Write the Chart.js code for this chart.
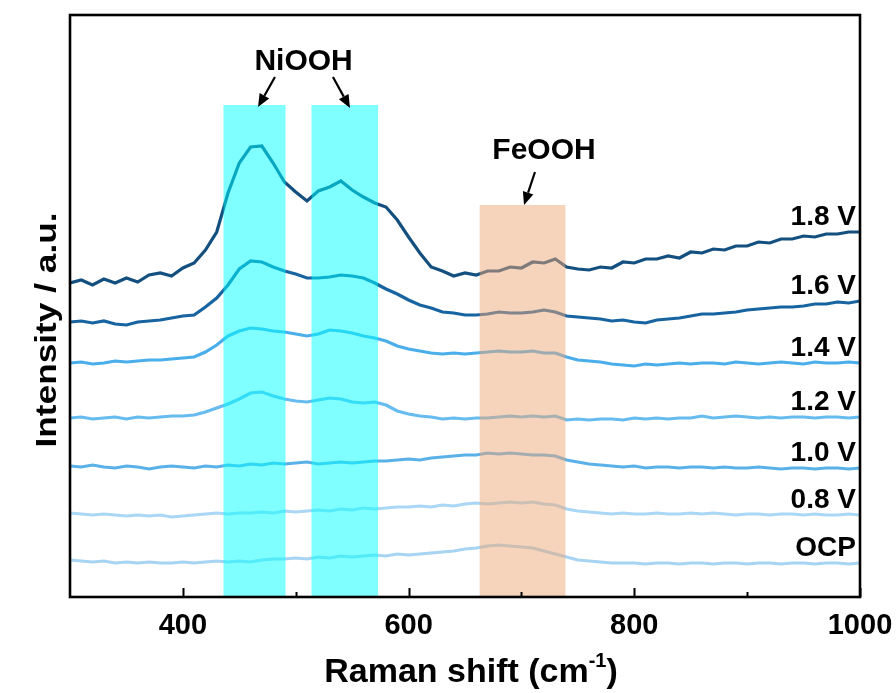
<!DOCTYPE html>
<html>
<head>
<meta charset="utf-8">
<script src="https://cdn.jsdelivr.net/npm/chart.js"></script>
<style>
  html, body { margin: 0; padding: 0; background: #fff; }
  #wrap { width: 896px; height: 693px; }
</style>
</head>
<body>
<div id="wrap"><canvas id="raman" width="896" height="693"></canvas></div>
<script>
// Raman shift axis (cm-1)
const ramanShift = [300, 310, 320, 330, 340, 350, 360, 370, 380, 390,
  400, 410, 420, 430, 440, 450, 460, 470, 480, 490,
  500, 510, 520, 530, 540, 550, 560, 570, 580, 590,
  600, 610, 620, 630, 640, 650, 660, 670, 680, 690,
  700, 710, 720, 730, 740, 750, 760, 770, 780, 790,
  800, 810, 820, 830, 840, 850, 860, 870, 880, 890,
  900, 910, 920, 930, 940, 950, 960, 970, 980, 990, 1000];

// spectra, already stacked with their offsets (a.u.)
const i18V = [31.4, 31.7, 31.2, 31.8, 31.4, 31.9, 31.5, 32.2, 32.4, 32.1,
  32.9, 33.4, 34.7, 36.5, 40.4, 43.4, 45.0, 45.1, 43.4, 41.5,
  40.5, 39.6, 40.6, 41.0, 41.6, 40.7, 40.0, 39.4, 39.0, 37.7,
  36.0, 34.4, 33.0, 32.6, 32.1, 32.4, 32.2, 32.6, 32.6, 33.0,
  32.9, 33.5, 33.4, 33.8, 33.0, 32.8, 32.7, 33.0, 32.9, 33.5,
  33.4, 33.8, 33.8, 34.1, 33.9, 34.5, 34.4, 34.8, 34.7, 35.1,
  35.1, 35.5, 35.4, 35.8, 35.8, 36.1, 36.0, 36.3, 36.3, 36.5, 36.5];
const i16V = [27.5, 27.6, 27.4, 27.6, 27.3, 27.2, 27.5, 27.6, 27.7, 27.9,
  28.1, 28.2, 29.0, 29.9, 31.2, 32.8, 33.6, 33.5, 33.0, 32.6,
  32.3, 31.9, 31.9, 32.0, 32.2, 32.1, 31.9, 31.4, 30.8, 30.3,
  29.7, 29.2, 28.9, 28.5, 28.4, 28.2, 28.2, 28.3, 28.5, 28.4,
  28.4, 28.5, 28.7, 28.5, 28.1, 28.0, 27.9, 27.8, 27.6, 27.7,
  27.5, 27.4, 27.7, 27.8, 27.9, 28.1, 28.3, 28.3, 28.4, 28.5,
  28.7, 28.8, 28.9, 29.0, 29.0, 29.1, 29.3, 29.3, 29.5, 29.4, 29.6];
const i14V = [23.4, 23.5, 23.3, 23.4, 23.6, 23.5, 23.6, 23.7, 23.7, 23.8,
  23.9, 24.0, 24.5, 25.2, 26.1, 26.6, 26.9, 26.8, 26.6, 26.5,
  26.3, 26.1, 26.3, 26.7, 26.6, 26.4, 26.1, 25.9, 25.6, 25.1,
  24.8, 24.6, 24.4, 24.3, 24.4, 24.3, 24.4, 24.5, 24.6, 24.5,
  24.5, 24.6, 24.4, 24.4, 24.0, 23.7, 23.6, 23.5, 23.3, 23.2,
  23.1, 23.3, 23.2, 23.3, 23.4, 23.3, 23.4, 23.4, 23.3, 23.5,
  23.4, 23.3, 23.4, 23.5, 23.4, 23.3, 23.5, 23.4, 23.4, 23.5, 23.4];
const i12V = [17.9, 18.0, 17.8, 17.9, 18.0, 17.8, 18.0, 17.9, 18.0, 18.1,
  18.1, 18.2, 18.5, 18.9, 19.3, 19.8, 20.4, 20.5, 20.1, 19.8,
  19.6, 19.5, 19.7, 19.9, 19.8, 19.5, 19.4, 19.5, 19.2, 18.6,
  18.3, 18.1, 18.0, 17.8, 17.9, 17.8, 17.9, 17.9, 18.0, 18.1,
  18.0, 18.1, 18.0, 18.1, 17.7, 17.8, 17.7, 17.8, 17.8, 17.7,
  17.9, 17.8, 17.9, 17.8, 17.9, 17.9, 18.1, 17.9, 18.0, 18.1,
  18.0, 17.9, 18.0, 17.9, 18.0, 18.0, 17.9, 18.0, 18.0, 17.9, 18.0];
const i10V = [13.1, 13.0, 13.2, 13.0, 12.9, 13.1, 13.0, 12.8, 13.0, 13.1,
  13.0, 12.9, 13.1, 13.0, 13.2, 13.1, 13.3, 13.2, 13.4, 13.3,
  13.4, 13.5, 13.3, 13.4, 13.5, 13.4, 13.5, 13.6, 13.6, 13.7,
  13.8, 13.7, 13.9, 14.0, 14.1, 14.2, 14.2, 14.4, 14.3, 14.4,
  14.3, 14.2, 14.2, 14.1, 13.7, 13.5, 13.3, 13.2, 13.1, 13.0,
  13.1, 12.9, 13.0, 13.0, 12.9, 13.0, 13.0, 12.9, 13.0, 12.9,
  12.9, 13.0, 12.9, 12.8, 12.9, 12.9, 12.8, 12.9, 12.9, 12.8, 12.9];
const i08V = [8.4, 8.3, 8.2, 8.3, 8.2, 8.1, 8.2, 8.1, 8.2, 8.0,
  8.1, 8.2, 8.3, 8.4, 8.3, 8.4, 8.4, 8.5, 8.4, 8.6,
  8.5, 8.6, 8.7, 8.6, 8.8, 8.7, 8.9, 8.8, 8.9, 9.0,
  9.0, 9.1, 9.0, 9.2, 9.1, 9.3, 9.4, 9.3, 9.4, 9.5,
  9.4, 9.5, 9.3, 9.2, 8.8, 8.6, 8.5, 8.4, 8.3, 8.4,
  8.3, 8.3, 8.4, 8.3, 8.3, 8.4, 8.3, 8.4, 8.3, 8.2,
  8.3, 8.3, 8.2, 8.3, 8.3, 8.2, 8.3, 8.2, 8.2, 8.3, 8.2];
const iOCP = [3.7, 3.6, 3.5, 3.6, 3.4, 3.5, 3.4, 3.5, 3.4, 3.4,
  3.5, 3.4, 3.5, 3.6, 3.5, 3.6, 3.5, 3.7, 3.8, 3.8,
  3.9, 3.8, 4.0, 3.9, 4.1, 4.0, 4.1, 4.2, 4.1, 4.3,
  4.2, 4.3, 4.4, 4.5, 4.6, 4.8, 4.9, 5.1, 5.2, 5.1,
  5.0, 4.9, 4.6, 4.3, 4.0, 3.7, 3.6, 3.5, 3.4, 3.4,
  3.4, 3.3, 3.4, 3.4, 3.3, 3.4, 3.4, 3.3, 3.4, 3.4,
  3.3, 3.4, 3.4, 3.3, 3.4, 3.4, 3.3, 3.4, 3.4, 3.3, 3.4];

const seriesNames = ['1.8 V', '1.6 V', '1.4 V', '1.2 V', '1.0 V', '0.8 V', 'OCP'];
const seriesValues = [i18V, i16V, i14V, i12V, i10V, i08V, iOCP];
const seriesColors = ['#134f7f', '#1764a0', '#4aaeea', '#66bbef', '#5ab1e8', '#a9d7f5', '#a7d4f2'];

// x ticks with labels
const tickLabels = [400, 600, 800, 1000];

// highlighted bands (cm-1) and their top (a.u.)
const bandFrom = [436, 514, 663];
const bandTo = [491, 573, 739];
const bandTop = [49.2, 49.2, 39.2];
const bandColors = ['rgba(0,255,255,0.5)', 'rgba(0,255,255,0.5)', 'rgba(238,168,120,0.5)'];

// band names and arrows pointing at the bands
const annoText = ['NiOOH', 'FeOOH'];
const annoX = [507, 720];
const annoY = [52.7, 43.8];
const arrowFrom = [[481.6, 52.0], [533, 52.0], [712, 42.5]];
const arrowTo = [[466.6, 49.0], [548.1, 48.9], [702.3, 39.2]];

const FONT = '"Liberation Sans", Arial, Helvetica, sans-serif';

function arrow(ctx, x1, y1, x2, y2) {
  const ang = Math.atan2(y2 - y1, x2 - x1);
  const head = 13, half = 5.5;
  const bx = x2 - head * Math.cos(ang), by = y2 - head * Math.sin(ang);
  ctx.beginPath();
  ctx.moveTo(x1, y1);
  ctx.lineTo(bx, by);
  ctx.lineWidth = 2.2;
  ctx.stroke();
  ctx.beginPath();
  ctx.moveTo(x2, y2);
  ctx.lineTo(bx + half * Math.sin(ang), by - half * Math.cos(ang));
  ctx.lineTo(bx - half * Math.sin(ang), by + half * Math.cos(ang));
  ctx.closePath();
  ctx.fill();
}

const decorations = {
  id: 'decorations',
  afterDatasetsDraw(chart) {
    const { ctx, chartArea: a, scales: { x, y } } = chart;
    ctx.save();

    // translucent bands over the spectra
    bandFrom.forEach((f, i) => {
      const l = x.getPixelForValue(f), r = x.getPixelForValue(bandTo[i]);
      const t = y.getPixelForValue(bandTop[i]);
      ctx.fillStyle = bandColors[i];
      ctx.fillRect(l, t, r - l, a.bottom - t);
    });

    // frame
    ctx.strokeStyle = '#000';
    ctx.lineWidth = 2.6;
    ctx.strokeRect(a.left, a.top, a.right - a.left, a.bottom - a.top);

    // inward ticks, major every 200, minor in between
    ctx.lineWidth = 2;
    for (let v = 400; v <= 1000; v += 100) {
      const px = Math.round(x.getPixelForValue(v)) + 0.5;
      const len = v % 200 === 0 ? 9 : 5;
      ctx.beginPath();
      ctx.moveTo(px, a.bottom);
      ctx.lineTo(px, a.bottom - len);
      ctx.stroke();
    }

    // series names at the right end
    ctx.fillStyle = '#000';
    ctx.font = 'bold 28px ' + FONT;
    ctx.textAlign = 'right';
    ctx.textBaseline = 'alphabetic';
    seriesNames.forEach((name, i) => {
      const vals = seriesValues[i];
      ctx.fillText(name, x.getPixelForValue(1000) - 4, y.getPixelForValue(vals[vals.length - 1]) - 7);
    });

    // band names and arrows
    ctx.font = 'bold 30px ' + FONT;
    ctx.textAlign = 'center';
    annoText.forEach((t, i) => {
      ctx.fillText(t, x.getPixelForValue(annoX[i]), y.getPixelForValue(annoY[i]));
    });
    arrowFrom.forEach((p, i) => {
      arrow(ctx, x.getPixelForValue(p[0]), y.getPixelForValue(p[1]),
        x.getPixelForValue(arrowTo[i][0]), y.getPixelForValue(arrowTo[i][1]));
    });
    ctx.restore();
  },
  afterDraw(chart) {
    const { ctx, chartArea: a } = chart;
    ctx.save();
    ctx.fillStyle = '#000';
    ctx.textBaseline = 'alphabetic';

    // x title with superscript
    const main = 'Raman shift (cm', sup = '-1', end = ')';
    ctx.font = 'bold 34px ' + FONT;
    const wMain = ctx.measureText(main).width, wEnd = ctx.measureText(end).width;
    ctx.font = 'bold 20px ' + FONT;
    const wSup = ctx.measureText(sup).width;
    let tx = 471 - (wMain + wSup + wEnd) / 2;
    const base = 682;
    ctx.textAlign = 'left';
    ctx.font = 'bold 34px ' + FONT;
    ctx.fillText(main, tx, base);
    tx += wMain;
    ctx.font = 'bold 20px ' + FONT;
    ctx.fillText(sup, tx, base - 15);
    tx += wSup;
    ctx.font = 'bold 34px ' + FONT;
    ctx.fillText(end, tx, base);

    // y title, rotated
    const yt = 'Intensity / a.u.';
    ctx.font = 'bold 30px ' + FONT;
    const w = ctx.measureText(yt).width;
    ctx.translate(56, (a.top + a.bottom) / 2 + 24);
    ctx.rotate(-Math.PI / 2);
    ctx.scale(235 / w, 1);
    ctx.textAlign = 'center';
    ctx.fillText(yt, 0, 0);
    ctx.restore();
  }
};

const datasets = seriesValues.map((vals, i) => ({
  label: seriesNames[i],
  data: vals.map((v, j) => ({ x: ramanShift[j], y: v })),
  borderColor: seriesColors[i],
  borderWidth: 3.2,
  pointRadius: 0,
  tension: 0,
  fill: false
}));

const config = {
  type: 'line',
  data: { datasets: datasets },
  options: {
    responsive: false,
    animation: false,
    layout: { autoPadding: false, padding: { left: 70, right: 36, top: 15, bottom: 0 } },
    plugins: { legend: { display: false }, tooltip: { enabled: false } },
    scales: {
      x: {
        type: 'linear',
        min: 300,
        max: 1000,
        grid: { display: false, drawTicks: false },
        border: { display: false },
        afterBuildTicks: (scale) => { scale.ticks = tickLabels.map(v => ({ value: v })); },
        afterFit: (scale) => {
          // the "1000" label may hang past the frame
          scale.height = 96;
          scale.paddingLeft = 0;
          scale.paddingRight = 0;
        },
        ticks: {
          padding: 12,
          color: '#000',
          maxRotation: 0,
          callback: (v) => String(v),
          font: { family: FONT, size: 29, weight: 'bold' }
        }
      },
      y: {
        display: false,
        min: 0,
        max: 58.2
      }
    }
  },
  plugins: [decorations]
};

const chart = new Chart(document.getElementById('raman').getContext('2d'), config);
</script>
</body>
</html>
